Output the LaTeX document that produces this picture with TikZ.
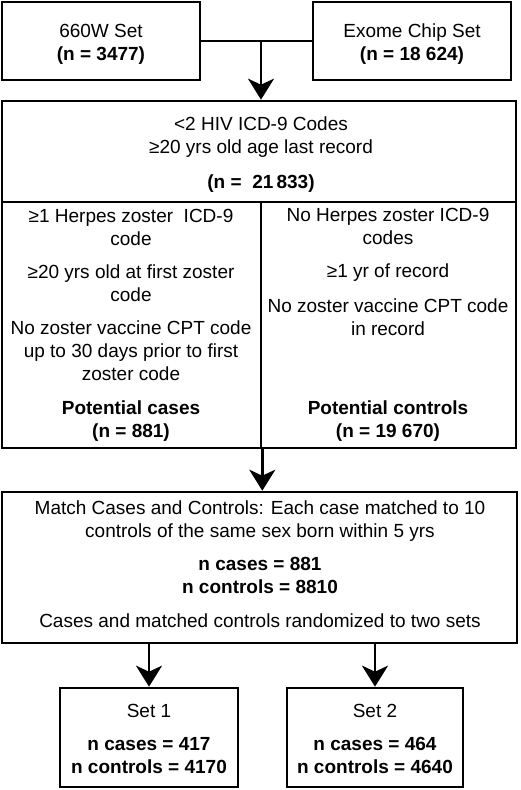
\documentclass[tikz,border=0pt]{standalone}
\usepackage{fontspec}
\setmainfont{Liberation Sans}
\usetikzlibrary{arrows.meta}
\begin{document}
\begin{tikzpicture}[x=1pt,y=-1pt]
        \useasboundingbox (0,0) rectangle (520,790);
        \begin{scope}[every node/.style={draw=black,line width=2.6pt,inner sep=0pt}]
        \node[minimum width=198pt,minimum height=78pt] (w660) at (101,41) {};
        \node[minimum width=198pt,minimum height=78pt] (exome) at (412,41) {};
        \node[minimum width=514pt,minimum height=101pt] (hiv) at (259,151.5) {};
        \node[minimum width=259pt,minimum height=246pt] (cases) at (131.5,325) {};
        \node[minimum width=255pt,minimum height=246pt] (controls) at (388.5,325) {};
        \node[minimum width=515pt,minimum height=151pt] (match) at (259.5,567.5) {};
        \node[minimum width=178pt,minimum height=99pt] (set1) at (149,737.5) {};
        \node[minimum width=176pt,minimum height=99pt] (set2) at (375,737.5) {};
        \end{scope}
        \begin{scope}[every node/.style={align=center,anchor=base,inner sep=0pt,font=\fontsize{19}{23}\selectfont}]
        \node (t660) at (101,60) {660W Set\\\textbf{(n = 3477)}};
        \node (texome) at (412,60) {Exome Chip Set\\\textbf{(n = 18 624)}};
        \node (thiv) at (261,188) {<2 HIV ICD-9 Codes\\≥20 yrs old age last record\\[12pt]\textbf{(n =\ \ 21\,833)}};
        \node (tcases) at (131,380) {≥1 Herpes zoster\ \ ICD-9\\code\\[10pt]≥20 yrs old at first zoster\\code\\[10pt]No zoster vaccine CPT code\\up to 30 days prior to first\\zoster code};
        \node (ncases) at (131,437) {\textbf{Potential cases}\\\textbf{(n = 881)}};
        \node (tcontrols) at (388,335) {No Herpes zoster ICD-9\\codes\\[10pt]≥1 yr of record\\[12pt]No zoster vaccine CPT code\\in record};
        \node (ncontrols) at (388,437) {\textbf{Potential controls}\\\textbf{(n = 19 670)}};
        \node (tmatch) at (260,627) {Match Cases and Controls: Each case matched to 10\\controls of the same sex born within 5 yrs\\[10pt]\textbf{n cases = 881}\\\textbf{n controls = 8810}\\[11pt]Cases and matched controls randomized to two sets};
        \node (tset1) at (149,773) {Set 1\\[10pt]\textbf{n cases = 417}\\\textbf{n controls = 4170}};
        \node (tset2) at (375,773) {Set 2\\[10pt]\textbf{n cases = 464}\\\textbf{n controls = 4640}};
        \end{scope}
        \coordinate (join) at (261,41);
        \begin{scope}[every edge/.style={draw=black,line width=2.6pt,-{Stealth[length=21pt,width=26pt,inset=6pt]}}]
        \draw[line width=2.6pt] (w660.east) -- (exome.west);
        \path (join) edge (join |- hiv.north)
              (cases.south east) edge (match.north -| cases.south east)
              (match.south -| set1.north) edge (set1.north)
              (match.south -| set2.north) edge (set2.north);
        \end{scope}
\end{tikzpicture}
\end{document}
